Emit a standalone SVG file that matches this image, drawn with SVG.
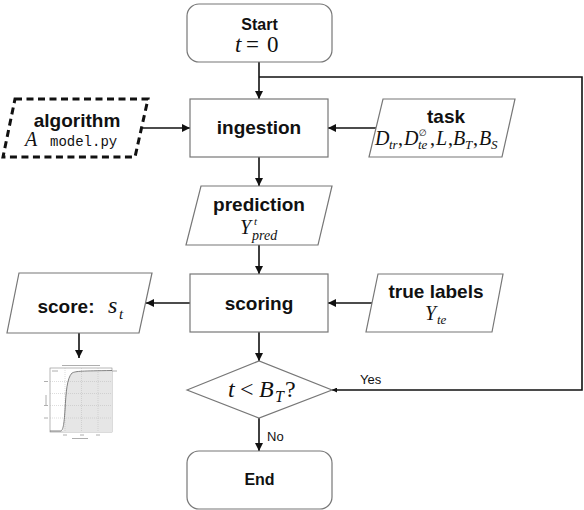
<svg xmlns="http://www.w3.org/2000/svg" width="584" height="510" viewBox="0 0 584 510">
<defs>
<marker id="arr" viewBox="0 0 10 10" refX="10" refY="5" markerWidth="8" markerHeight="8" markerUnits="userSpaceOnUse" orient="auto">
<path d="M0,0 L10,5 L0,10 z" fill="#111"/>
</marker>
<marker id="arrs" viewBox="0 0 10 10" refX="10" refY="5" markerWidth="5" markerHeight="5" markerUnits="userSpaceOnUse" orient="auto">
<path d="M0,0 L10,5 L0,10 z" fill="#111"/>
</marker>
</defs>
<style>
.node{fill:#fff;stroke:#777;stroke-width:1.2}
.dash{fill:#fff;stroke:#111;stroke-width:3;stroke-dasharray:7,4.5}
.edge{fill:none;stroke:#111;stroke-width:1.6}
.lbl{font-family:"Liberation Sans",Arial,sans-serif;font-weight:bold;font-size:19px;fill:#111;text-anchor:middle}
.small{font-family:"Liberation Sans",Arial,sans-serif;font-weight:bold;font-size:16px;fill:#111;text-anchor:middle}
.edgelbl{font-family:"Liberation Sans",Arial,sans-serif;font-size:13px;fill:#111}
.m{font-family:"Liberation Serif","Times New Roman",serif;font-style:italic;fill:#111}
.mu{font-family:"Liberation Serif","Times New Roman",serif;font-style:normal;fill:#111}
.mono{font-family:"Liberation Mono","Courier New",monospace;font-size:14px;fill:#111}
.grid{stroke:#bbb;stroke-width:0.5;stroke-dasharray:1,1}
.tiny{stroke:#999;stroke-width:0.8}
</style>

<g id="connectors">
<line class="edge" x1="259" y1="62" x2="259" y2="99" marker-end="url(#arr)"/>
<polyline class="edge" points="259,77 582,77 582,390 332,390" marker-end="url(#arrs)"/>
<line class="edge" x1="143" y1="128" x2="190" y2="128" marker-end="url(#arr)"/>
<line class="edge" x1="376" y1="128" x2="328" y2="128" marker-end="url(#arr)"/>
<line class="edge" x1="259" y1="157" x2="259" y2="186" marker-end="url(#arr)"/>
<line class="edge" x1="259" y1="245" x2="259" y2="274" marker-end="url(#arr)"/>
<line class="edge" x1="372" y1="303" x2="328" y2="303" marker-end="url(#arr)"/>
<line class="edge" x1="190" y1="303" x2="146" y2="303" marker-end="url(#arr)"/>
<line class="edge" x1="79" y1="333" x2="79" y2="358" marker-end="url(#arr)"/>
<line class="edge" x1="259" y1="332" x2="259" y2="361" marker-end="url(#arr)"/>
<line class="edge" x1="259" y1="418" x2="259" y2="451" marker-end="url(#arr)"/>
<text class="edgelbl" x="360" y="384">Yes</text>
<text class="edgelbl" x="267" y="441">No</text>
</g>

<g id="start">
<rect class="node" x="187" y="4" width="145" height="58" rx="12"/>
<text class="small" x="259.5" y="30">Start</text>
<text font-size="23"><tspan class="m" x="235" y="52">t</tspan><tspan class="mu" x="246" y="52">=</tspan><tspan class="mu" x="267" y="52">0</tspan></text>
</g>

<g id="algorithm">
<polygon class="dash" points="15,99 148,99 135,157 3,157"/>
<text class="lbl" x="77" y="127">algorithm</text>
<text class="m" font-size="20" x="25" y="146">A</text>
<text class="mono" x="50" y="146">model.py</text>
</g>

<g id="ingestion">
<rect class="node" x="190" y="99" width="138" height="58"/>
<text class="lbl" x="259" y="134">ingestion</text>
</g>

<g id="task">
<polygon class="node" points="383,99 515,99 502,157 369,157"/>
<text class="lbl" x="446" y="123">task</text>
<text font-size="20">
<tspan class="m" x="375" y="145">D</tspan>
<tspan class="m" font-size="13" x="389" y="149">tr</tspan>
<tspan class="mu" x="398" y="145">,</tspan>
<tspan class="m" x="404" y="145">D</tspan>
<tspan class="m" font-size="13" x="418" y="149">te</tspan>
<tspan font-family="DejaVu Sans,sans-serif" font-size="9" fill="#111" x="419" y="136">∅</tspan>
<tspan class="mu" x="430" y="145">,</tspan>
<tspan class="m" x="436" y="145">L</tspan>
<tspan class="mu" x="448" y="145">,</tspan>
<tspan class="m" x="453" y="145">B</tspan>
<tspan class="m" font-size="13" x="465" y="149">T</tspan>
<tspan class="mu" x="473" y="145">,</tspan>
<tspan class="m" x="479" y="145">B</tspan>
<tspan class="m" font-size="13" x="491" y="149">S</tspan>
</text>
</g>

<g id="prediction">
<polygon class="node" points="201,186 332,186 318,245 186,245"/>
<text class="lbl" x="259" y="210.5">prediction</text>
<text font-size="20"><tspan class="m" x="240" y="234">Y</tspan><tspan class="m" font-size="11" x="254" y="225">t</tspan><tspan class="m" font-size="14" x="252" y="240">pred</tspan></text>
</g>

<g id="scoring">
<rect class="node" x="190" y="274" width="138" height="58"/>
<text class="lbl" x="259" y="310">scoring</text>
</g>

<g id="truelabels">
<polygon class="node" points="378,274 503,274 492,332 366,332"/>
<text class="lbl" x="436" y="298">true labels</text>
<text font-size="20"><tspan class="m" x="425" y="320">Y</tspan><tspan class="m" font-size="13" x="437" y="324">te</tspan></text>
</g>

<g id="score">
<polygon class="node" points="19,273 152,273 139,333 7,333"/>
<text class="lbl" x="66" y="313">score:</text>
<text font-size="24"><tspan class="m" x="108" y="313">s</tspan><tspan class="m" font-size="15" x="119" y="319">t</tspan></text>
</g>

<g id="plot">
<rect x="50" y="368" width="62" height="64" fill="#fff" stroke="#888" stroke-width="0.6"/>
<path d="M63,432 C64,428 64.5,410 66,392 C67.5,378 70,373 76,371.5 L112,370.5 L112,432 Z" fill="#e6e6e6"/>
<line class="grid" x1="65" y1="368" x2="65" y2="432"/>
<line class="grid" x1="81.5" y1="368" x2="81.5" y2="432"/>
<line class="grid" x1="98" y1="368" x2="98" y2="432"/>
<line class="grid" x1="50" y1="381.5" x2="112" y2="381.5"/>
<line class="grid" x1="50" y1="393.5" x2="112" y2="393.5"/>
<line class="grid" x1="50" y1="405.5" x2="112" y2="405.5"/>
<line class="grid" x1="50" y1="418" x2="112" y2="418"/>
<path d="M50,431 L61,431 C63,430 64,425 65,410 C66,392 67,378 72,373 C76,371 82,371 112,370.5" fill="none" stroke="#666" stroke-width="0.8"/>
<line class="tiny" x1="62" y1="365.5" x2="100" y2="365.5"/>
<line class="tiny" x1="52" y1="371" x2="58" y2="371"/>
<line class="tiny" x1="112" y1="371" x2="117" y2="371"/>
<line class="tiny" x1="44" y1="381.5" x2="48" y2="381.5"/>
<line class="tiny" x1="44" y1="405.5" x2="48" y2="405.5"/>
<line class="tiny" x1="44" y1="418" x2="48" y2="418"/>
<line class="tiny" x1="46" y1="395" x2="46" y2="405"/>
<line class="tiny" x1="72" y1="438.5" x2="88" y2="438.5"/>
<line class="tiny" x1="63" y1="435" x2="67" y2="435"/>
<line class="tiny" x1="80" y1="435" x2="84" y2="435"/>
<line class="tiny" x1="96" y1="435" x2="100" y2="435"/>
</g>

<g id="decision">
<polygon class="node" points="187,390 259,361 332,390 259,418"/>
<text font-size="24"><tspan class="m" x="228" y="397">t</tspan><tspan class="mu" x="240" y="397">&lt;</tspan><tspan class="m" x="259" y="397">B</tspan><tspan class="m" font-size="16" x="275" y="402">T</tspan><tspan class="mu" x="285" y="397">?</tspan></text>
</g>

<g id="end">
<rect class="node" x="187" y="451" width="145" height="58" rx="12"/>
<text class="small" x="259.5" y="485">End</text>
</g>
</svg>
